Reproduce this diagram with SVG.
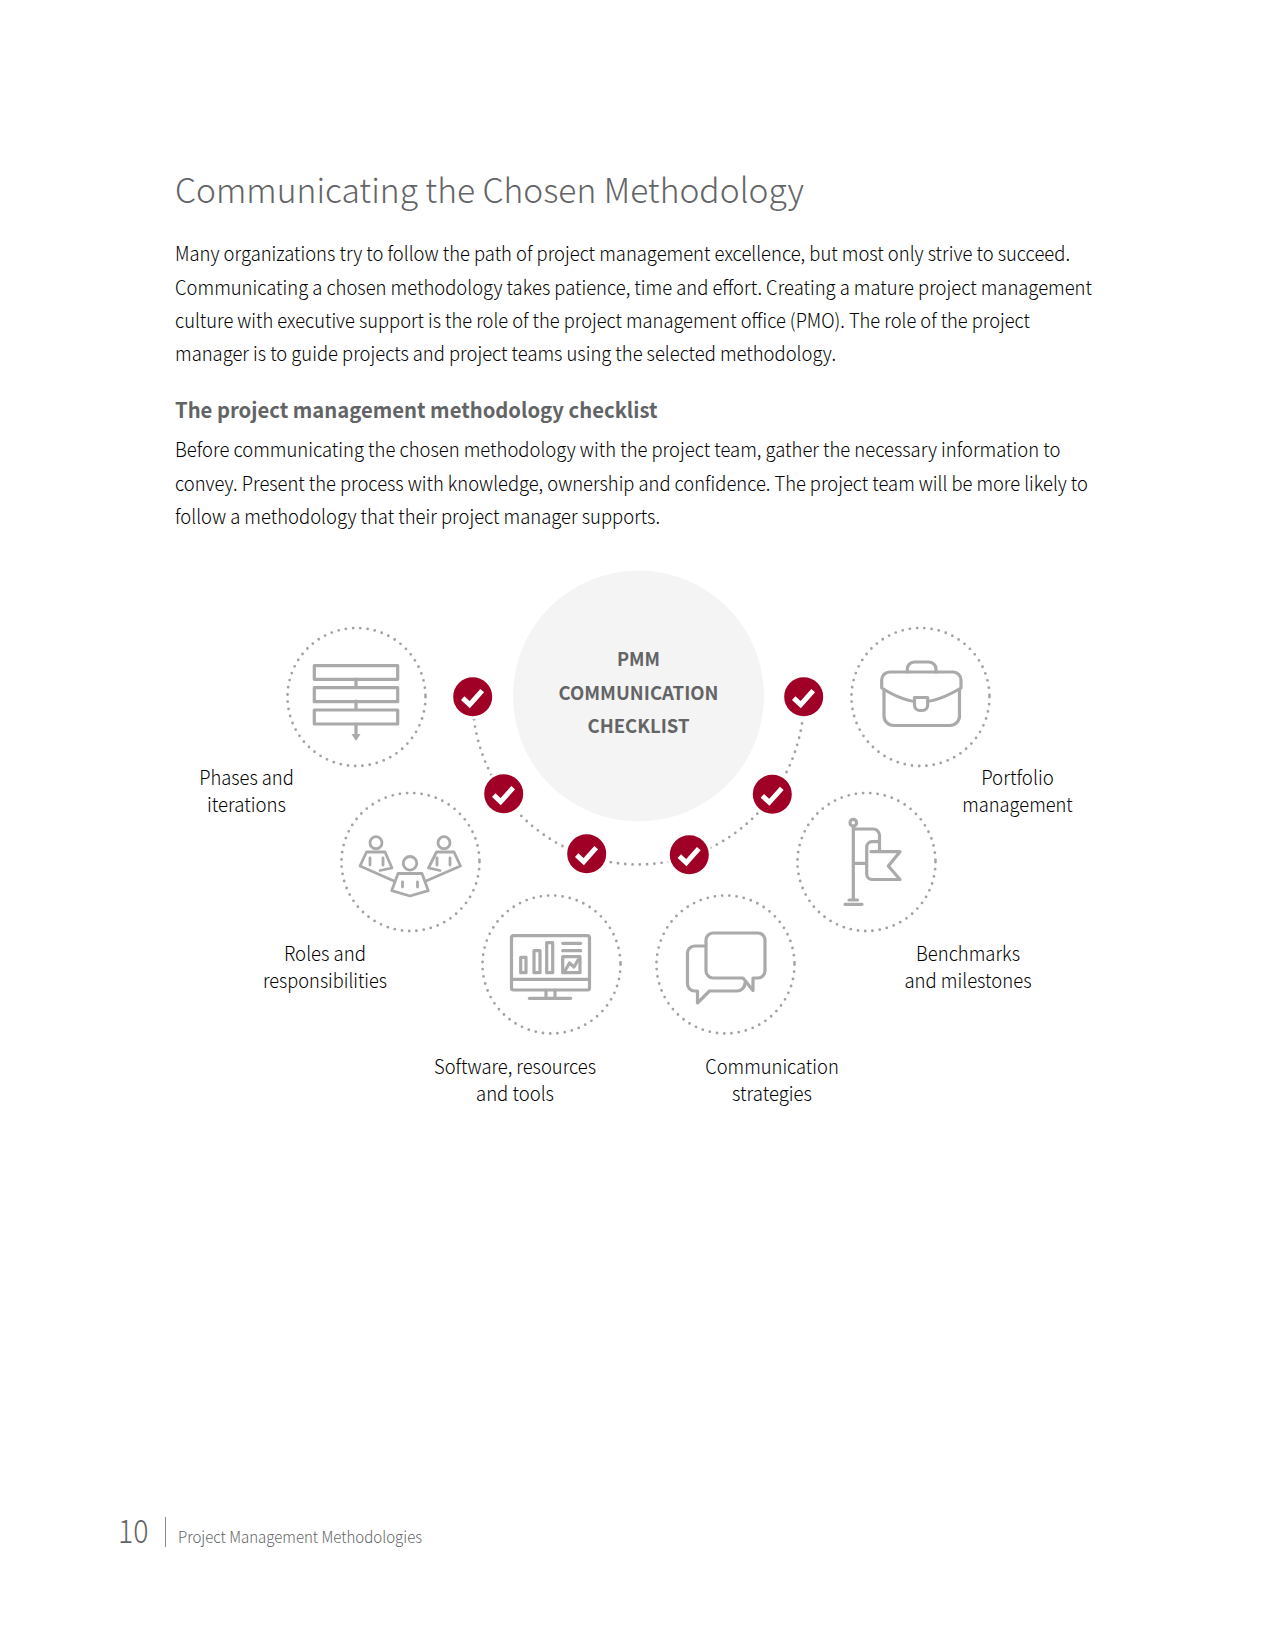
<svg xmlns="http://www.w3.org/2000/svg" width="1275" height="1650" viewBox="0 0 1275 1650">
<style>
text{font-family:"Noto Sans CJK SC","Source Sans Pro","Noto Sans",sans-serif}
.b{font-size:19.800px;font-weight:300;fill:#000}
.l{font-size:19.800px;font-weight:300;fill:#000;text-anchor:middle}
.c{font-size:19px;font-weight:700;fill:#636466;text-anchor:middle}
.dot{fill:none;stroke:#a0a2a5;stroke-width:2.800;stroke-linecap:round;stroke-dasharray:0 7.300}
.i{fill:none;stroke:#aaa;stroke-width:3.200;stroke-linejoin:round;stroke-linecap:round}
.chk{fill:none;stroke:#fff;stroke-width:5;stroke-linejoin:miter}
</style>
<defs>
<g id="check"><circle r="22.500" fill="#fff"/><circle r="19.500" fill="#a00026"/><path class="chk" d="M-10 1.500L-3 8L9.500-6"/></g>
</defs>
<text x="175" y="202.500" font-size="34" font-weight="300" fill="#636466" textLength="629" lengthAdjust="spacingAndGlyphs">Communicating the Chosen Methodology</text>
<text class="b" x="175" y="261" textLength="895" lengthAdjust="spacingAndGlyphs">Many organizations try to follow the path of project management excellence, but most only strive to succeed.</text>
<text class="b" x="175" y="295" textLength="917" lengthAdjust="spacingAndGlyphs">Communicating a chosen methodology takes patience, time and effort. Creating a mature project management</text>
<text class="b" x="175" y="328" textLength="855" lengthAdjust="spacingAndGlyphs">culture with executive support is the role of the project management office (PMO). The role of the project</text>
<text class="b" x="175" y="361" textLength="661" lengthAdjust="spacingAndGlyphs">manager is to guide projects and project teams using the selected methodology.</text>
<text x="175" y="417.500" font-size="21" font-weight="700" fill="#636466" textLength="482.500" lengthAdjust="spacingAndGlyphs">The project management methodology checklist</text>
<text class="b" x="175" y="457" textLength="885.500" lengthAdjust="spacingAndGlyphs">Before communicating the chosen methodology with the project team, gather the necessary information to</text>
<text class="b" x="175" y="491" textLength="913" lengthAdjust="spacingAndGlyphs">convey. Present the process with knowledge, ownership and confidence. The project team will be more likely to</text>
<text class="b" x="175" y="524" textLength="485" lengthAdjust="spacingAndGlyphs">follow a methodology that their project manager supports.</text>
<g id="connectors">
<path class="dot" d="M472.500 697.500A165.750 167 0 0 0 804 697.500"/>
</g>
<g id="center"><circle cx="638.500" cy="696" r="125.500" fill="#f4f4f4"/>
<text class="c" x="638.500" y="665.500" textLength="43" lengthAdjust="spacingAndGlyphs">PMM</text><text class="c" x="638.500" y="699.500" textLength="160" lengthAdjust="spacingAndGlyphs">COMMUNICATION</text><text class="c" x="638.500" y="732.500" textLength="102" lengthAdjust="spacingAndGlyphs">CHECKLIST</text></g>
<g id="checks">
<use href="#check" x="472.700" y="696.700"/><use href="#check" x="503.700" y="793.700"/><use href="#check" x="586.700" y="853.700"/><use href="#check" x="689.300" y="854.700"/><use href="#check" x="772.300" y="794.300"/><use href="#check" x="803.700" y="696.700"/>
</g>
<g id="phases"><circle class="dot" cx="356.500" cy="697" r="69"/>
<g class="i"><rect x="314.300" y="665.700" width="83.400" height="13.600"/><rect x="314.300" y="687.700" width="83.400" height="14"/><rect x="314.300" y="710" width="83.400" height="14"/><path d="M356 679V687M356 701V709M356 724V737"/></g><path d="M351.500 734H360.500L356 741Z" fill="#aaa"/>
<text class="l" x="246.500" y="784.500" textLength="94.700" lengthAdjust="spacingAndGlyphs">Phases and</text><text class="l" x="246.500" y="811.500" textLength="79" lengthAdjust="spacingAndGlyphs">iterations</text></g>
<g id="roles"><circle class="dot" cx="410.500" cy="862" r="69"/>
<g class="i" style="stroke-width:2.800">
<circle cx="376" cy="842.700" r="6"/><circle cx="410" cy="863.300" r="6.800"/><circle cx="444" cy="842.700" r="6"/>
<path d="M394 881L360 866L366.500 852H385L392 868L380 870.500M370 858V865M383 858V865"/>
<path d="M426 881L460.500 866L454 852H436.500L428.500 868L440 870.500M450 858V865M437 858V865"/>
<path d="M398 873.500H422L428.300 890.700L410 896L391.700 890.700ZM402.500 882V887M417.500 882V887"/>
</g>
<text class="l" x="325" y="960.500" textLength="82" lengthAdjust="spacingAndGlyphs">Roles and</text><text class="l" x="325" y="987.500" textLength="124" lengthAdjust="spacingAndGlyphs">responsibilities</text></g>
<g id="software"><circle class="dot" cx="551.500" cy="964.500" r="69"/>
<g class="i"><rect x="511.500" y="935.700" width="78" height="54.300" rx="2"/><path d="M511.500 979.300H589.500M546 990V998M555 990V998M529.300 998.300H570.700M562.700 943.300H580.700M562.700 950.700H580.700"/><rect x="520.700" y="957.300" width="5.300" height="15.400"/><rect x="534" y="950.700" width="6" height="22"/><rect x="546.700" y="942.700" width="6" height="30"/><rect x="562.700" y="956.700" width="17.300" height="16"/><path d="M565.500 970L569.500 963L574 967L578 960"/></g>
<text class="l" x="515" y="1073.500" textLength="162" lengthAdjust="spacingAndGlyphs">Software, resources</text><text class="l" x="515" y="1100.500" textLength="78" lengthAdjust="spacingAndGlyphs">and tools</text></g>
<g id="communication"><circle class="dot" cx="725.500" cy="964.500" r="69"/>
<g class="i"><path d="M705.700 946H694.500a7 7 0 0 0-7 7V984a7 7 0 0 0 7 7H697.500V1003L709.500 991H737a8 8 0 0 0 8-8"/><path d="M713 933H758a7 7 0 0 1 7 7V971a7 7 0 0 1-7 7H753V990.500L743 978H713a7 7 0 0 1-7-7V940a7 7 0 0 1 7-7Z"/></g>
<text class="l" x="772" y="1073.500" textLength="133.600" lengthAdjust="spacingAndGlyphs">Communication</text><text class="l" x="772" y="1100.500" textLength="80" lengthAdjust="spacingAndGlyphs">strategies</text></g>
<g id="benchmarks"><circle class="dot" cx="866.500" cy="862" r="69"/>
<g class="i"><circle cx="853.300" cy="822.700" r="3.300"/><path d="M853.300 827V900M845 904.300H862M849 900H857.500M854 829H873a6.500 6.500 0 0 1 6.500 6.500V851.500M879.500 841.700H872a5.500 5.500 0 0 0-5.300 5.500V874a5.500 5.500 0 0 0 5.500 5.500H900L888.300 866L900 851.700H871M854 863.300H866.700"/></g>
<text class="l" x="968" y="960.500" textLength="104" lengthAdjust="spacingAndGlyphs">Benchmarks</text><text class="l" x="968" y="987.500" textLength="127" lengthAdjust="spacingAndGlyphs">and milestones</text></g>
<g id="portfolio"><circle class="dot" cx="920.500" cy="697" r="69"/>
<g class="i"><path d="M884 690V716a9.500 9.500 0 0 0 9.500 9.500H950a9.500 9.500 0 0 0 9.500-9.500V690"/><path d="M881.700 688V680a8 8 0 0 1 8-8H953a8 8 0 0 1 8 8V688C946 697 933 702 921 702C909 702 896 697 881.700 688Z"/><path d="M907.300 672V669a7 7 0 0 1 7-7H929a7 7 0 0 1 7 7V672"/><path d="M914.500 697.500H927.700V705a5.500 5.500 0 0 1-5.500 5.500H920a5.500 5.500 0 0 1-5.500-5.500Z" fill="#fff"/></g>
<text class="l" x="1017.500" y="784.500" textLength="72.600" lengthAdjust="spacingAndGlyphs">Portfolio</text><text class="l" x="1017.500" y="811.500" textLength="110.500" lengthAdjust="spacingAndGlyphs">management</text></g>
<g id="footer"><text x="118" y="1542.500" font-size="33" font-weight="200" fill="#636466" textLength="30.500" lengthAdjust="spacingAndGlyphs">10</text><path d="M165.500 1517V1547" stroke="#8a8a8a" stroke-width="1"/><text x="178" y="1542.500" font-size="16" font-weight="300" fill="#636466" textLength="244" lengthAdjust="spacingAndGlyphs">Project Management Methodologies</text></g>
</svg>
